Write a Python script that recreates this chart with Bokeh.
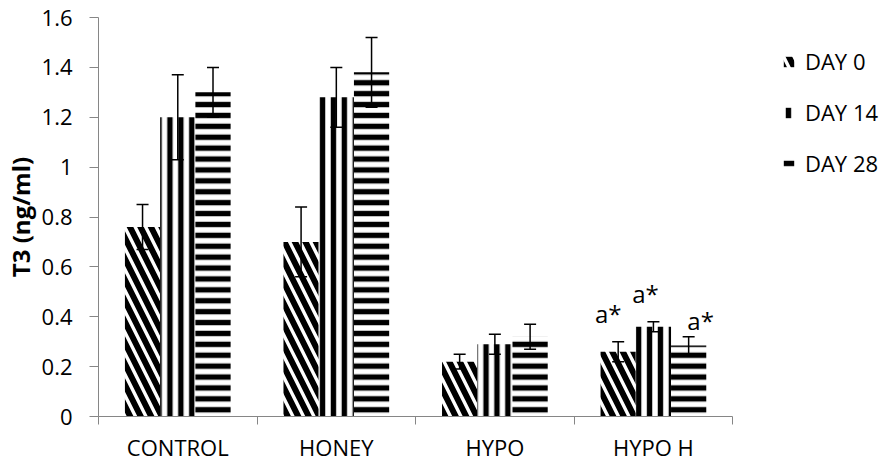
import numpy as np
from bokeh.plotting import figure
from bokeh.models import (ColumnDataSource, Range1d, FixedTicker, Whisker, TeeHead,
                          Legend, LegendItem)
from bokeh.core.properties import value
from bokeh.embed import file_html
from bokeh.resources import INLINE

# ---------------- data ----------------
categories = ["CONTROL", "HONEY", "HYPO", "HYPO H"]
series_names = ["DAY 0", "DAY 14", "DAY 28"]
day0 = [0.76, 0.70, 0.22, 0.26]
day0_err = [0.09, 0.14, 0.03, 0.04]
day14 = [1.20, 1.28, 0.29, 0.36]
day14_err = [0.17, 0.12, 0.04, 0.02]
day28 = [1.30, 1.38, 0.32, 0.285]
day28_err = [0.10, 0.14, 0.05, 0.035]
y_ticks = [0, 0.2, 0.4, 0.6, 0.8, 1, 1.2, 1.4, 1.6]
y_tick_labels = ["0", "0.2", "0.4", "0.6", "0.8", "1", "1.2", "1.4", "1.6"]
annot_text = "a*"
annot_group = "HYPO H"

# ---------------- style ----------------
FONT = "Open Sans"
AXIS_GREY = "#868686"
bar_w = 1 / 4.5
patterns = ["left_diagonal_line", "vertical_line", "horizontal_line"]
hatch_scales = [21, 10.9, 10.9]
hatch_weights = [6, 5.4, 5.4]
annot_dx = [-10, -8, 12]
annot_dy = [-28, -28, -16]

W, H = 883, 466
LEFT, TOP, BOTTOM = 97, 17, 50
PLOT_PX = 635  # pixel width of the category area
n_cat = len(categories)
x_end = n_cat * (W - LEFT) / PLOT_PX  # frame extends right so the legend fits inside it

p = figure(width=W, height=H, x_range=Range1d(0, x_end), y_range=Range1d(0, 1.6),
           output_backend="svg", toolbar_location=None,
           min_border_left=LEFT, min_border_right=0, min_border_top=TOP,
           min_border_bottom=BOTTOM)
p.xgrid.visible = False
p.ygrid.visible = False
p.outline_line_color = None
p.background_fill_color = "white"
p.border_fill_color = "white"

values = [day0, day14, day28]
errors = [day0_err, day14_err, day28_err]
offsets = [-bar_w, 0, bar_w]
idx = np.arange(n_cat)
renderers = []
sources = []
for k in range(3):
    v = np.array(values[k], dtype=float)
    e = np.array(errors[k], dtype=float)
    src = ColumnDataSource(dict(x=idx + 0.5 + offsets[k], top=v, upper=v + e, lower=v - e))
    sources.append(src)
    r = p.vbar(x="x", top="top", bottom=0, width=bar_w, source=src,
               fill_color="white", line_color=None,
               hatch_pattern=patterns[k], hatch_color="black",
               hatch_scale=hatch_scales[k], hatch_weight=hatch_weights[k])
    renderers.append(r)

for src in sources:
    p.add_layout(Whisker(base="x", upper="upper", lower="lower", source=src,
                         level="overlay",
                         line_color="black", line_width=1.5,
                         upper_head=TeeHead(size=12, line_color="black", line_width=1.5),
                         lower_head=TeeHead(size=12, line_color="black", line_width=1.5)))

# annotations on HYPO H
gi = categories.index(annot_group)
ax, ay = [], []
for k in range(3):
    ax.append(gi + 0.5 + offsets[k])
    ay.append(values[k][gi] + errors[k][gi])
asrc = ColumnDataSource(dict(x=ax, y=ay, t=[annot_text] * 3, dx=annot_dx, dy=annot_dy))
p.text(x="x", y="y", text="t", source=asrc, x_offset="dx", y_offset="dy",
       text_font=value(FONT), text_font_size="24px", text_align="center",
       text_baseline="alphabetic", text_color="black")

# x axis: labels at group centres, ticks at group boundaries
xa = p.xaxis[0]
xa.bounds = (0, n_cat)
xa.ticker = FixedTicker(ticks=list(idx + 0.5), minor_ticks=list(range(n_cat + 1)))
xa.major_label_overrides = {float(i + 0.5): c for i, c in enumerate(categories)}
xa.major_tick_out = 0
xa.major_tick_in = 0
xa.minor_tick_out = 8
xa.minor_tick_in = 0
xa.minor_tick_line_color = AXIS_GREY
xa.axis_line_color = AXIS_GREY
xa.major_label_text_font = FONT
xa.major_label_text_font_size = "22px"
xa.major_label_text_color = "black"
xa.major_label_standoff = 7

ya = p.yaxis[0]
ya.ticker = FixedTicker(ticks=y_ticks, minor_ticks=[])
ya.major_label_overrides = {t: l for t, l in zip(y_ticks, y_tick_labels)}
ya.major_tick_out = 9
ya.major_tick_in = 0
ya.major_tick_line_color = AXIS_GREY
ya.axis_line_color = AXIS_GREY
ya.major_label_text_font = FONT
ya.major_label_text_font_size = "22px"
ya.major_label_text_color = "black"
ya.major_label_standoff = 17
ya.axis_label = "T3 (ng/ml)"
ya.axis_label_text_font = FONT
ya.axis_label_text_font_style = "bold"
ya.axis_label_text_font_size = "24px"
ya.axis_label_text_color = "black"
ya.axis_label_standoff = 2

legend = Legend(items=[LegendItem(label=n, renderers=[r]) for n, r in zip(series_names, renderers)],
                location=(684, 238), orientation="vertical",
                glyph_width=13, glyph_height=13, label_standoff=10, spacing=21,
                padding=0, margin=0, border_line_color=None, background_fill_alpha=0,
                label_text_font=FONT, label_text_font_size="22px", label_height=20,
                label_text_color="black")
p.add_layout(legend)

open("out.html", "w").write(file_html(p, INLINE))
